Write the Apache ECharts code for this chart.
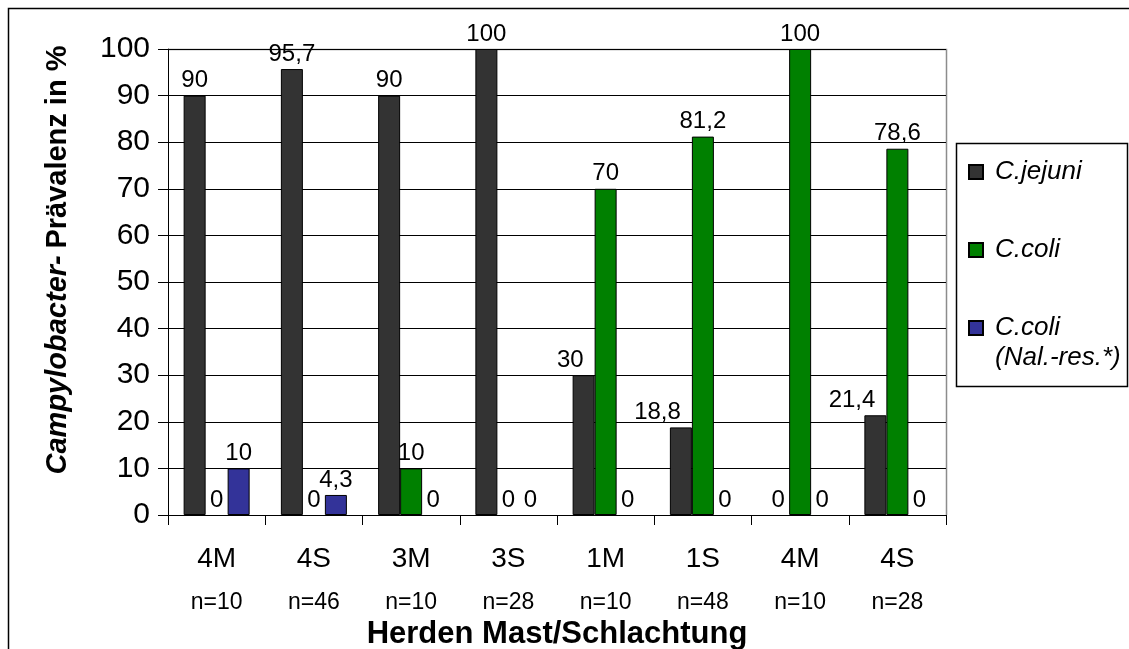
<!DOCTYPE html>
<html>
<head>
<meta charset="utf-8">
<script src="https://cdn.jsdelivr.net/npm/echarts@6/dist/echarts.min.js"></script>
<style>
  html, body { margin: 0; padding: 0; background: #fff; }
  #chart { width: 1129px; height: 649px; }
</style>
</head>
<body>
<div id="chart"></div>
<script>
// Herd groups (M = Mast, S = Schlachtung) and sample sizes
const herds = ['4M', '4S', '3M', '3S', '1M', '1S', '4M', '4S'];
const sampleSizes = ['n=10', 'n=46', 'n=10', 'n=28', 'n=10', 'n=48', 'n=10', 'n=28'];

// Prevalence in percent per species
const jejuni = [90, 95.7, 90, 100, 30, 18.8, 0, 21.4];
const coli = [0, 0, 10, 0, 70, 81.2, 100, 78.6];
const coliNalRes = [10, 4.3, 0, 0, 0, 0, 0, 0];

const yTicks = { min: 0, max: 100, interval: 10 };

const FONT = 'Arial, "Liberation Sans", sans-serif';

const chart = echarts.init(document.getElementById('chart'), null, { renderer: 'canvas' });

const fmt = p => String(p.value).replace('.', ',');

// zero-height bars get no outline; jejuni labels move left when the coli bar beside is taller
function toItems(values, neighbour) {
  return values.map((v, i) => {
    const item = { value: v };
    if (v === 0) item.itemStyle = { borderWidth: 0 };
    if (neighbour && v > 0 && neighbour[i] > v) item.label = { align: 'right' };
    return item;
  });
}

const baseLabel = {
  show: true,
  position: 'top',
  distance: 3,
  color: '#000',
  fontFamily: FONT,
  fontSize: 24,
  formatter: fmt
};

const barStyle = color => ({ color: color, borderColor: '#000', borderWidth: 1 });

// legend entries are three lines tall so the marker sits beside the first text line
const legendText = name => {
  const lines = name.replace(' (', '\n(').split('\n');
  if (lines.length === 1) return '\u00a0\n' + lines[0] + '\n\u00a0';
  return '\u00a0\n' + lines.join('\n');
};

chart.setOption({
  animation: false,
  backgroundColor: '#fff',
  grid: { left: 168, right: 183, top: 49, bottom: 134, outerBoundsMode: 'none' },
  legend: {
    orient: 'vertical',
    left: 968,
    top: 127,
    padding: 0,
    itemWidth: 14,
    itemHeight: 14,
    itemGap: -12,
    icon: 'rect',
    textStyle: {
      fontFamily: FONT,
      fontSize: 26,
      fontStyle: 'italic',
      color: '#000',
      lineHeight: 30,
      padding: [0, 0, 0, 7]
    },
    formatter: legendText,
    data: ['C.jejuni', 'C.coli', 'C.coli (Nal.-res.*)']
  },
  xAxis: {
    type: 'category',
    data: herds.map((h, i) => h + '\n' + sampleSizes[i]),
    axisLine: { lineStyle: { color: '#000', width: 1 } },
    axisTick: { show: true, length: 10, lineStyle: { color: '#000' } },
    axisLabel: {
      margin: 22,
      fontFamily: FONT,
      color: '#000',
      formatter: v => {
        const parts = v.split('\n');
        return '{a|' + parts[0] + '}\n{b|' + parts[1] + '}';
      },
      rich: {
        a: { fontFamily: FONT, fontSize: 28, lineHeight: 44, color: '#000' },
        b: { fontFamily: FONT, fontSize: 23, lineHeight: 44, color: '#000' }
      }
    },
    name: 'Herden Mast/Schlachtung',
    nameLocation: 'middle',
    nameGap: 100,
    nameTextStyle: { fontFamily: FONT, fontSize: 31, fontWeight: 'bold', color: '#000' }
  },
  yAxis: {
    type: 'value',
    min: yTicks.min,
    max: yTicks.max,
    interval: yTicks.interval,
    axisLine: { show: true, lineStyle: { color: '#000', width: 1 } },
    axisTick: { show: true, length: 10, lineStyle: { color: '#000' } },
    axisLabel: { margin: 18, fontFamily: FONT, fontSize: 30, color: '#000' },
    splitLine: { show: true, lineStyle: { color: '#000', width: 1 } },
    name: '{i|Campylobacter-}  {b|Prävalenz in %}',
    nameLocation: 'middle',
    nameGap: 96,
    nameTextStyle: {
      padding: [0, 0, 0, 44],
      rich: {
        i: { fontFamily: FONT, fontSize: 29, fontWeight: 'bold', fontStyle: 'italic', color: '#000' },
        b: { fontFamily: FONT, fontSize: 29, fontWeight: 'bold', color: '#000' }
      }
    }
  },
  series: [
    {
      name: 'C.jejuni',
      type: 'bar',
      barWidth: 22,
      barGap: '0%',
      data: toItems(jejuni, coli),
      itemStyle: barStyle('#333333'),
      label: baseLabel
    },
    {
      name: 'C.coli',
      type: 'bar',
      barWidth: 22,
      barGap: '0%',
      data: toItems(coli),
      itemStyle: barStyle('#008000'),
      label: baseLabel
    },
    {
      name: 'C.coli (Nal.-res.*)',
      type: 'bar',
      barWidth: 22,
      barGap: '0%',
      data: toItems(coliNalRes),
      itemStyle: barStyle('#333399'),
      label: baseLabel
    }
  ],
  graphic: [
    {
      type: 'rect',
      silent: true,
      shape: { x: 8.5, y: 8.5, width: 1200, height: 700 },
      style: { fill: null, stroke: '#000', lineWidth: 1.5 }
    },
    {
      type: 'rect',
      silent: true,
      shape: { x: 956.5, y: 143.5, width: 171, height: 243 },
      style: { fill: null, stroke: '#000', lineWidth: 1.5 }
    },
    {
      // plot frame: top and right edges in grey
      type: 'polyline',
      silent: true,
      z: 0,
      shape: { points: [[169, 49.5], [946.5, 49.5], [946.5, 515]] },
      style: { fill: null, stroke: '#8c8c8c', lineWidth: 1.5 }
    }
  ]
});
</script>
</body>
</html>
